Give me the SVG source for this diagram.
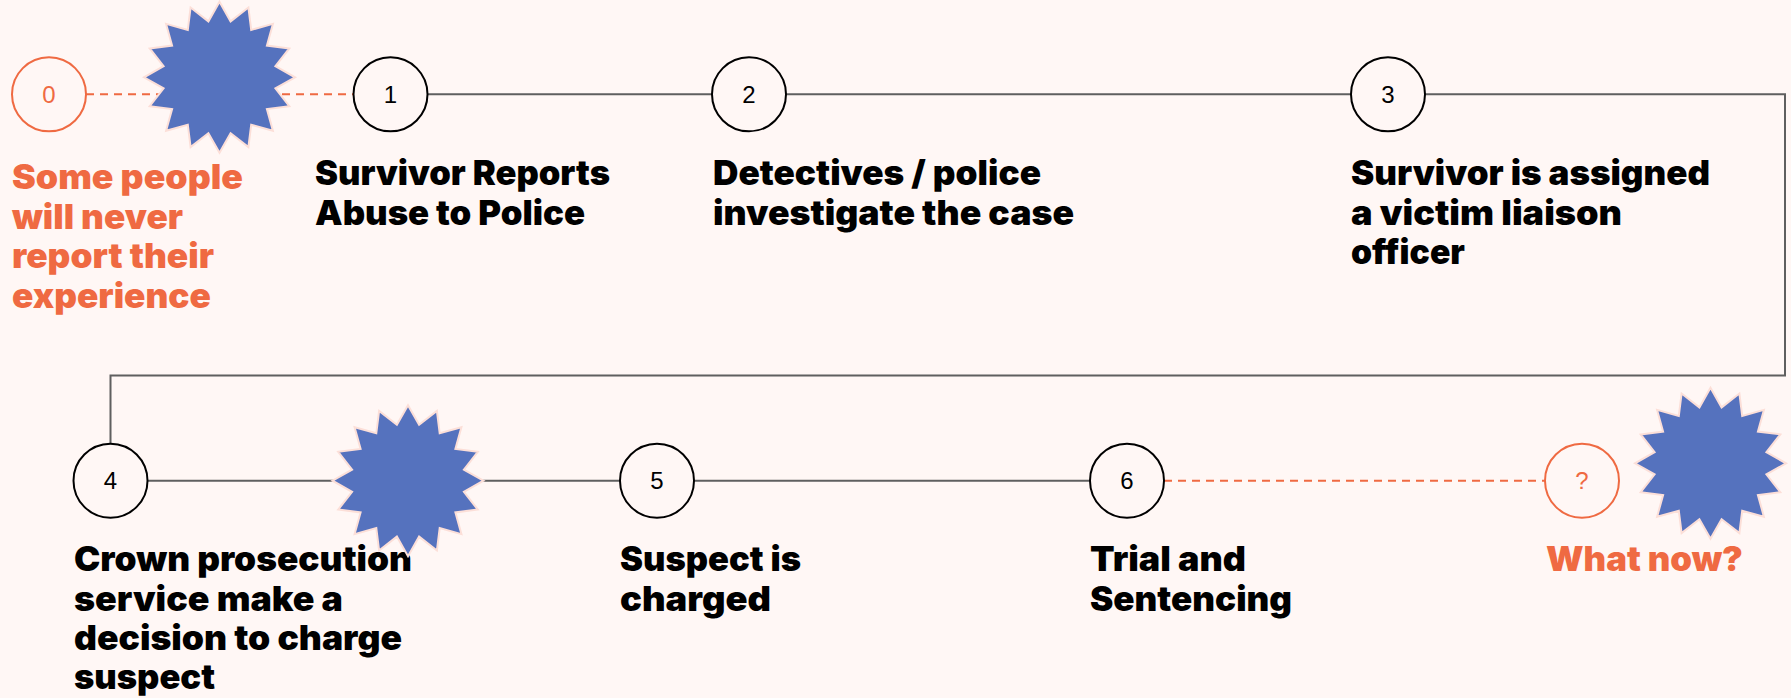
<svg xmlns="http://www.w3.org/2000/svg" width="1791" height="698" viewBox="0 0 1791 698">
<style>
.conn{fill:none;stroke:#5f5f5f;stroke-width:2}
.dash{fill:none;stroke:#ef6a42;stroke-width:2;stroke-dasharray:8 6}
.c{fill:none;stroke:#000;stroke-width:2}
.co{fill:none;stroke:#ef6a42;stroke-width:2}
.n{font-family:"Liberation Sans",Arial,sans-serif;font-size:24px;text-anchor:middle;fill:#000}
.no{fill:#ef6a42}
.l{font-family:Inter,"Liberation Sans",sans-serif;font-size:34px;font-weight:900;fill:#000}
.lo{fill:#ef6a42}
.s{fill:#5572be;stroke:#fcdfd8;stroke-width:2}
</style>
<defs>
<polygon id="star" class="s" points="75.500,0 55.900,11.100 69.800,28.900 47.400,31.700 53.400,53.400 31.700,47.400 28.900,69.800 11.100,55.900 0,75.500 -11.100,55.900 -28.900,69.800 -31.700,47.400 -53.400,53.400 -47.400,31.700 -69.800,28.900 -55.900,11.100 -75.500,0 -55.900,-11.100 -69.800,-28.900 -47.400,-31.700 -53.400,-53.400 -31.700,-47.400 -28.900,-69.800 -11.100,-55.900 0,-75.500 11.100,-55.900 28.900,-69.800 31.700,-47.400 53.400,-53.400 47.400,-31.700 69.800,-28.900 55.900,-11.100"/>
</defs>
<rect width="1791" height="698" fill="#fff7f5"/>
<g id="connectors">
<path class="dash" d="M86 94.300H353"/>
<path class="conn" d="M427 94.300H712"/>
<path class="conn" d="M786 94.300H1351"/>
<path class="conn" d="M1425 94.300H1785V375.500H110.500V444"/>
<path class="conn" d="M147.500 480.700H620"/>
<path class="conn" d="M694 480.700H1091"/>
<path class="dash" d="M1164 480.700H1545"/>
</g>
<g id="node-0"><circle class="co" cx="49" cy="94.300" r="37"/><text class="n no" x="49" y="103">0</text>
<text class="l lo"><tspan x="12" y="189" textLength="231" lengthAdjust="spacingAndGlyphs">Some people</tspan><tspan x="12" y="229" textLength="171" lengthAdjust="spacingAndGlyphs">will never</tspan><tspan x="12" y="268" textLength="202" lengthAdjust="spacingAndGlyphs">report their</tspan><tspan x="12" y="308" textLength="199" lengthAdjust="spacingAndGlyphs">experience</tspan></text></g>
<g id="node-1"><circle class="c" cx="390.500" cy="94.300" r="37"/><text class="n" x="390.500" y="103">1</text>
<text class="l"><tspan x="315" y="185" textLength="295" lengthAdjust="spacingAndGlyphs">Survivor Reports</tspan><tspan x="315" y="225" textLength="270" lengthAdjust="spacingAndGlyphs">Abuse to Police</tspan></text></g>
<g id="node-2"><circle class="c" cx="749" cy="94.300" r="37"/><text class="n" x="749" y="103">2</text>
<text class="l"><tspan x="713" y="185" textLength="328" lengthAdjust="spacingAndGlyphs">Detectives / police</tspan><tspan x="713" y="225" textLength="361" lengthAdjust="spacingAndGlyphs">investigate the case</tspan></text></g>
<g id="node-3"><circle class="c" cx="1388" cy="94.300" r="37"/><text class="n" x="1388" y="103">3</text>
<text class="l"><tspan x="1351" y="185" textLength="359" lengthAdjust="spacingAndGlyphs">Survivor is assigned</tspan><tspan x="1351" y="225" textLength="271" lengthAdjust="spacingAndGlyphs">a victim liaison</tspan><tspan x="1351" y="264" textLength="114" lengthAdjust="spacingAndGlyphs">officer</tspan></text></g>
<g id="node-4"><circle class="c" cx="110.500" cy="480.700" r="37"/><text class="n" x="110.500" y="489">4</text>
<text class="l"><tspan x="74" y="571" textLength="338" lengthAdjust="spacingAndGlyphs">Crown prosecution</tspan><tspan x="74" y="611" textLength="269" lengthAdjust="spacingAndGlyphs">service make a</tspan><tspan x="74" y="650" textLength="328" lengthAdjust="spacingAndGlyphs">decision to charge</tspan><tspan x="74" y="689" textLength="141" lengthAdjust="spacingAndGlyphs">suspect</tspan></text></g>
<g id="node-5"><circle class="c" cx="657" cy="480.700" r="37"/><text class="n" x="657" y="489">5</text>
<text class="l"><tspan x="620" y="571" textLength="181" lengthAdjust="spacingAndGlyphs">Suspect is</tspan><tspan x="620" y="611" textLength="151" lengthAdjust="spacingAndGlyphs">charged</tspan></text></g>
<g id="node-6"><circle class="c" cx="1127" cy="480.700" r="37"/><text class="n" x="1127" y="489">6</text>
<text class="l"><tspan x="1090" y="571" textLength="156" lengthAdjust="spacingAndGlyphs">Trial and</tspan><tspan x="1090" y="611" textLength="202" lengthAdjust="spacingAndGlyphs">Sentencing</tspan></text></g>
<g id="node-q"><circle class="co" cx="1582" cy="480.700" r="37"/><text class="n no" x="1582" y="489">?</text>
<text class="l lo" x="1546" y="571" textLength="197" lengthAdjust="spacingAndGlyphs">What now?</text></g>
<g id="stars">
<use href="#star" x="219.500" y="77.300"/>
<use href="#star" x="408" y="480.700"/>
<use href="#star" x="1710.500" y="463.300"/>
</g>
</svg>
